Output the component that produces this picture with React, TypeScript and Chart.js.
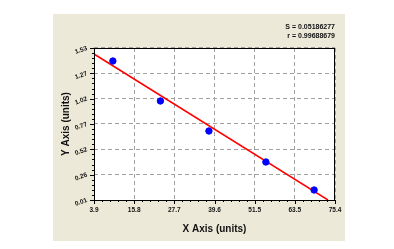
import React, { useEffect, useRef } from "react";
import { Chart, registerables } from "chart.js";

Chart.register(...registerables);

const xTickLabels = ["3.9", "15.8", "27.7", "39.6", "51.5", "63.5", "75.4"];
const yTickLabels = ["0.01", "0.26", "0.52", "0.77", "1.02", "1.27", "1.53"];
const xMin = 3.9;
const xMax = 75.4;
const yMin = 0.01;
const yMax = 1.53;

const pointX = [9.5, 23.6, 38.0, 54.9, 69.2];
const pointY = [1.4, 1.0, 0.7, 0.39, 0.11];

const fitX = [3.9, 73.3];
const fitY = [1.47, 0.01];

const statLines = ["S = 0.05186277", "r = 0.99688679"];
const xTitle = "X Axis (units)";
const yTitle = "Y Axis (units)";

const FONT = "'Liberation Sans', Arial, sans-serif";

const decorPlugin = {
  id: "decor",
  beforeDraw(chart: any) {
    const { ctx, chartArea } = chart;
    ctx.save();
    ctx.fillStyle = "#ECE9D8";
    ctx.fillRect(53, 14, 292, 227);
    ctx.fillStyle = "#ffffff";
    ctx.fillRect(chartArea.left, chartArea.top, chartArea.right - chartArea.left, chartArea.bottom - chartArea.top);
    ctx.restore();
  },
  afterDraw(chart: any) {
    const { ctx, chartArea } = chart;
    const xs = chart.scales.x;
    const ys = chart.scales.y;
    ctx.save();
    ctx.strokeStyle = "#000";
    ctx.lineWidth = 1;
    ctx.strokeRect(chartArea.left + 0.5, chartArea.top + 0.5, chartArea.right - chartArea.left - 1, chartArea.bottom - chartArea.top);
    ctx.beginPath();
    const nx = xTickLabels.length - 1;
    const stepX = (xMax - xMin) / nx;
    for (let i = 0; i <= nx * 5; i++) {
      const v = xMin + (i * stepX) / 5;
      const px = Math.round(xs.getPixelForValue(v)) + 0.5;
      const len = i % 5 === 0 ? 4 : 2;
      ctx.moveTo(px, chartArea.bottom);
      ctx.lineTo(px, chartArea.bottom + len);
    }
    const ny = yTickLabels.length - 1;
    const stepY = (yMax - yMin) / ny;
    for (let i = 0; i <= ny * 5; i++) {
      const v = yMin + (i * stepY) / 5;
      const py = Math.round(ys.getPixelForValue(v)) + 0.5;
      const len = i % 5 === 0 ? 4 : 2;
      ctx.moveTo(chartArea.left, py);
      ctx.lineTo(chartArea.left - len, py);
    }
    ctx.stroke();
    ctx.fillStyle = "#111";
    ctx.font = `bold 7px ${FONT}`;
    ctx.textAlign = "right";
    ctx.textBaseline = "middle";
    ctx.fillText(statLines[0], 335, 27);
    ctx.fillText(statLines[1], 335, 36);
    ctx.font = `bold 10px ${FONT}`;
    ctx.textAlign = "center";
    ctx.fillText(xTitle, (chartArea.left + chartArea.right) / 2, 229);
    ctx.translate(66, (chartArea.top + chartArea.bottom) / 2);
    ctx.rotate(-Math.PI / 2);
    ctx.fillText(yTitle, 0, 0);
    ctx.restore();
  },
};

export default function App() {
  const ref = useRef<HTMLCanvasElement>(null);
  useEffect(() => {
    if (!ref.current) return;
    const chart = new Chart(ref.current, {
      type: "scatter",
      data: {
        datasets: [
          {
            label: "fit",
            data: fitX.map((x, i) => ({ x, y: fitY[i] })),
            showLine: true,
            borderColor: "#ff0000",
            borderWidth: 1.5,
            pointRadius: 0,
            order: 2,
          },
          {
            label: "points",
            data: pointX.map((x, i) => ({ x, y: pointY[i] })),
            backgroundColor: "#0000ff",
            borderColor: "#0000ff",
            pointRadius: 3.2,
            order: 1,
          },
        ],
      },
      options: {
        responsive: false,
        animation: false,
        events: [],
        layout: { padding: { left: 0, top: 48, right: 59, bottom: 0 } },
        plugins: { legend: { display: false }, tooltip: { enabled: false } },
        scales: {
          x: {
            type: "linear",
            min: xMin,
            max: xMax,
            afterFit: (s: any) => {
              s.height = 49;
            },
            afterBuildTicks: (s: any) => {
              const n = xTickLabels.length - 1;
              s.ticks = xTickLabels.map((_, i) => ({ value: xMin + (i * (xMax - xMin)) / n }));
            },
            ticks: {
              callback: (_v: any, i: number) => xTickLabels[i],
              font: { family: FONT, size: 6.5, weight: "bold" },
              color: "#111",
              padding: 6,
              maxRotation: 0,
              minRotation: 0,
              autoSkip: false,
            },
            grid: {
              drawTicks: false,
              color: "#a0a0a0",
              lineWidth: 1,
            },
            border: { display: false, dash: [4, 3] },
          },
          y: {
            type: "linear",
            min: yMin,
            max: yMax,
            afterFit: (s: any) => {
              s.width = 94;
            },
            afterBuildTicks: (s: any) => {
              const n = yTickLabels.length - 1;
              s.ticks = yTickLabels.map((_, i) => ({ value: yMin + (i * (yMax - yMin)) / n }));
            },
            ticks: {
              callback: (_v: any, i: number) => yTickLabels[i],
              font: { family: FONT, size: 6.5, weight: "bold" },
              color: "#111",
              padding: 7,
              minRotation: 20,
              maxRotation: 20,
              autoSkip: false,
            },
            grid: {
              drawTicks: false,
              color: "#a0a0a0",
              lineWidth: 1,
            },
            border: { display: false, dash: [4, 3] },
          },
        },
      },
      plugins: [decorPlugin],
    } as any);
    return () => chart.destroy();
  }, []);
  return (
    <div style={{ position: "fixed", left: 0, top: 0, width: 394, height: 249, background: "#fff" }}>
      <canvas ref={ref} width={394} height={249} style={{ display: "block" }} />
    </div>
  );
}
